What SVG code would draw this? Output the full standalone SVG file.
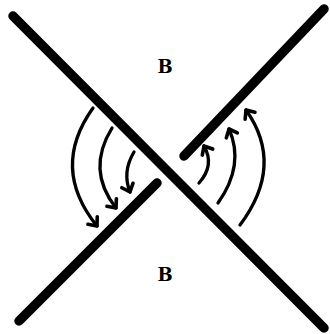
<svg xmlns="http://www.w3.org/2000/svg" width="330" height="334" viewBox="0 0 330 334">
<style>
.strand{stroke:#000;stroke-width:9.5;stroke-linecap:round;fill:none}
.arc{stroke:#000;stroke-width:3.3;stroke-linecap:round;fill:none;marker-end:url(#ah)}
.lbl{font-family:"DejaVu Serif","Liberation Serif",serif;font-weight:bold;font-size:18px;fill:#000;text-anchor:middle}
</style>
<defs>
<marker id="ah" markerUnits="userSpaceOnUse" markerWidth="20" markerHeight="20" viewBox="-10 -10 20 20" refX="0" refY="0" orient="auto">
<path d="M-7,-6 L0,0 L-7,6" fill="none" stroke="#000" stroke-width="3.6" stroke-linecap="round" stroke-linejoin="round"/>
</marker>
</defs>
<rect width="330" height="334" fill="#fff"/>
<g id="strand-over"><line class="strand" x1="13" y1="16" x2="324" y2="328"/></g>
<g id="strand-under-top"><line class="strand" x1="184" y1="156" x2="324" y2="9"/></g>
<g id="strand-under-bottom"><line class="strand" x1="157" y1="183" x2="19" y2="321"/></g>
<g id="label-top"><text class="lbl" x="165" y="73">B</text></g>
<g id="label-bottom"><text class="lbl" x="165" y="281">B</text></g>
<g id="connectors">
<path class="arc" d="M93,108 Q50,168 97,226"/>
<path class="arc" d="M112,128 Q86,170 116,208"/>
<path class="arc" d="M134,152 Q122,172 130,192"/>
<path class="arc" d="M199,183 Q215,165 204,146"/>
<path class="arc" d="M218,203 Q245,165 229,129"/>
<path class="arc" d="M240,225 Q285,165 246,110"/>
</g>
</svg>
